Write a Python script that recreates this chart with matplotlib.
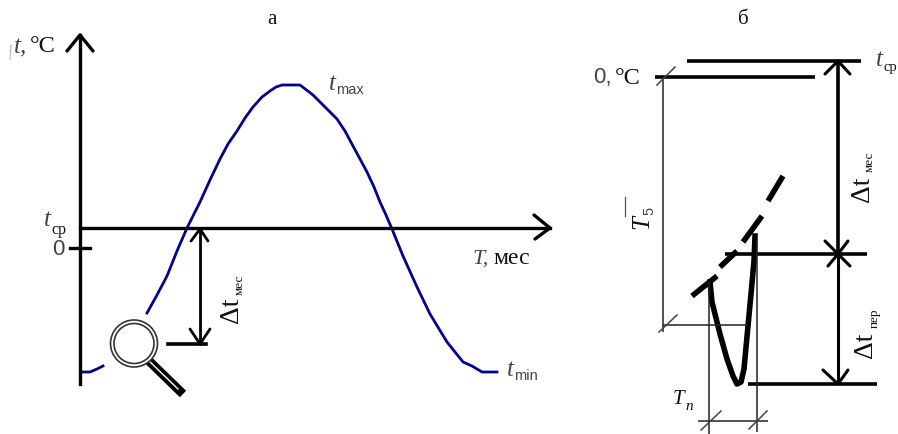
import matplotlib
matplotlib.use("Agg")
import matplotlib.pyplot as plt
from matplotlib.patches import Circle

# Temperature curve, panel a (month position, temperature scale)
curve_left_x = [81, 90, 97, 103]
curve_left_y = [373, 373, 370, 367]
curve_main_x = [147, 157, 167, 177, 187, 200, 210, 220, 228, 237, 245, 253, 262, 270, 276, 282, 300,
                313, 325, 337, 345, 353, 360, 367, 374, 380, 386, 392, 403, 417, 430, 447, 463, 472, 482, 497]
curve_main_y = [314, 296, 277, 252, 229, 203, 181, 160, 145, 132, 119, 108, 98, 92, 88, 86, 86,
                96, 108, 120, 132, 147, 160, 173, 188, 203, 216, 230, 257, 288, 315, 343, 363, 367, 373, 373]

# Panel a axes and guides
axis_y_x = [80, 80];      axis_y_y = [36, 385]
axis_x_x = [80, 550];     axis_x_y = [229, 229]
arrow_y_x = [67, 80, 93]; arrow_y_y = [52, 36, 52]
arrow_x_x = [534, 550, 535]; arrow_x_y = [216, 229, 240]
zero_x = [70, 90];        zero_y = [249, 249]
dt_x = [200, 200];        dt_y = [230, 345]
dt_up_x = [191, 200, 208]; dt_up_y = [242, 230, 242]
dt_dn_x = [190, 200, 210]; dt_dn_y = [330, 345, 330]
dt_base_x = [168, 206];   dt_base_y = [345, 345]

# Magnifier
lens_center = (134, 344.5)
handle_x = [147, 183];    handle_y = [360, 395]

# Panel b thick curve pieces
dash_segments = [([692, 717], [297, 277]), ([720, 737], [268, 252]),
                 ([743, 762], [243, 217]), ([768, 783], [202, 177])]
vee_x = [710, 712, 720, 727, 733, 737, 741, 744, 748, 751, 754, 755]
vee_y = [283, 303, 335, 360, 377, 385, 383, 370, 327, 295, 262, 237]

# Panel b lines: (x pair, y pair)
thick_lines = [([687, 861], [62, 62]), ([655, 815], [78, 78]),
               ([725, 867], [255, 255]), ([748, 877], [385, 385]),
               ([838, 838], [62, 255])]
medium_lines = [([838, 838], [255, 385])]
arrow_lines = [([825, 838, 850], [75, 62, 75]), ([825, 838, 848], [242, 255, 242]),
               ([828, 838, 850], [267, 255, 267]), ([823, 838, 848], [371, 385, 371])]
thin_lines = [([663, 663], [78, 333]), ([663, 748], [326, 326]),
              ([709, 709], [283, 435]), ([757, 757], [240, 433]),
              ([698, 768], [422, 422])]
slashes = [([657, 675], [86, 68]), ([659, 677], [333, 316]),
           ([701, 721], [431, 412]), ([749, 767], [430, 412])]

fig = plt.figure(figsize=(8.98, 4.35), dpi=100, facecolor="white")
ax = fig.add_axes([0, 0, 1, 1])
ax.set_xlim(0, 898)
ax.set_ylim(435, 0)
ax.axis("off")

BLACK = "#000000"
BLUE = "#00008b"
kw = dict(color=BLACK, solid_capstyle="round", solid_joinstyle="round")

ax.plot(curve_left_x, curve_left_y, color=BLUE, lw=2.0)
ax.plot(curve_main_x, curve_main_y, color=BLUE, lw=2.0)

ax.plot(axis_y_x, axis_y_y, color=BLACK, lw=2.4)
ax.plot(axis_x_x, axis_x_y, color=BLACK, lw=2.4)
for xs, ys in [(arrow_y_x, arrow_y_y), (arrow_x_x, arrow_x_y)]:
    ax.plot(xs, ys, lw=2.4, **kw)
ax.plot(zero_x, zero_y, color=BLACK, lw=2.4)
ax.plot(dt_x, dt_y, color=BLACK, lw=2.0)
ax.plot(dt_up_x, dt_up_y, lw=2.0, **kw)
ax.plot(dt_dn_x, dt_dn_y, lw=2.0, **kw)
ax.plot(dt_base_x, dt_base_y, color=BLACK, lw=2.6)

ax.plot(handle_x, handle_y, color=BLACK, lw=6.5, solid_capstyle="butt", zorder=4)
ax.plot(handle_x[:1] + [178], handle_y[:1] + [390], color="white", lw=1.0, zorder=4.5)
ax.add_patch(Circle(lens_center, 23.5, fc="white", ec="#333333", lw=1.2, zorder=5))
ax.add_patch(Circle(lens_center, 20, fc="white", ec="#333333", lw=1.2, zorder=5))

for xs, ys in dash_segments:
    ax.plot(xs, ys, color=BLACK, lw=4.0, solid_capstyle="butt")
ax.plot(vee_x, vee_y, color=BLACK, lw=4.0, solid_joinstyle="round")
for xs, ys in thick_lines:
    ax.plot(xs, ys, color=BLACK, lw=2.6, solid_capstyle="butt")
for xs, ys in medium_lines:
    ax.plot(xs, ys, color=BLACK, lw=2.2, solid_capstyle="butt")
for xs, ys in arrow_lines:
    ax.plot(xs, ys, lw=2.2, **kw)
for xs, ys in thin_lines:
    ax.plot(xs, ys, color="#222222", lw=1.1, solid_capstyle="butt")
for xs, ys in slashes:
    ax.plot(xs, ys, color="#444444", lw=1.1)

# faint scan marks beside labels
ax.plot([11, 10], [46, 60], color="#bbbbbb", lw=0.9)


def T(x, y, s, size=14, style="normal", family="Liberation Serif", color="#111111",
      rot=0, ha="left", va="center"):
    ax.text(x, y, s, fontsize=size, fontstyle=style, family=family, color=color,
            rotation=rot, ha=ha, va=va, rotation_mode="anchor", zorder=6)


GREY = "#444444"
SANS = "Liberation Sans"
T(272, 20, "а", 15, ha="center")
T(743, 19, "б", 15, ha="center")

# Panel a labels
T(14, 47, "t,", 18, "italic", color=GREY)
T(30, 47, "°C", 17.5)
T(44, 220, "t", 18, "italic", color=GREY)
T(51, 230, "ср", 11.5)
T(58, 250, "0", 16, family=SANS, color=GREY, ha="center")
T(329, 84, "t", 18, "italic", color=GREY)
T(336, 90, "max", 10.5, family=SANS, color=GREY)
T(473, 259, "T,", 16, "italic", color=GREY)
T(493, 259, "мес", 17)
T(507, 370, "t", 18, "italic", color=GREY)
T(514, 376, "min", 10.5, family=SANS, color=GREY)
T(238, 323, "Δt", 20, rot=90, va="baseline")
T(243, 295, "мес", 9.5, rot=90, va="baseline")

# Panel b labels
T(593, 78, "0,", 16, family=SANS, color=GREY)
T(615, 78, "°C", 17.5)
T(876, 60, "t", 18, "italic", color=GREY)
T(883, 68, "ср", 10.5)
T(869, 202, "Δt", 20, rot=90, va="baseline")
T(873, 172, "мес", 9.5, rot=90, va="baseline")
T(872, 358, "Δt", 20, rot=90, va="baseline")
T(878, 328, "пер", 9.5, rot=90, va="baseline")
T(648, 229, "T", 18, "italic", rot=90, va="baseline")
T(653, 215, "5", 10.5, family=SANS, color=GREY, rot=90, va="baseline")
ax.plot([625, 625], [198, 217], color="#555555", lw=0.9)
T(673, 400, "T", 15, "italic")
T(685, 407, "n", 11, "italic")

fig.savefig("out.png", dpi=100, facecolor="white")
